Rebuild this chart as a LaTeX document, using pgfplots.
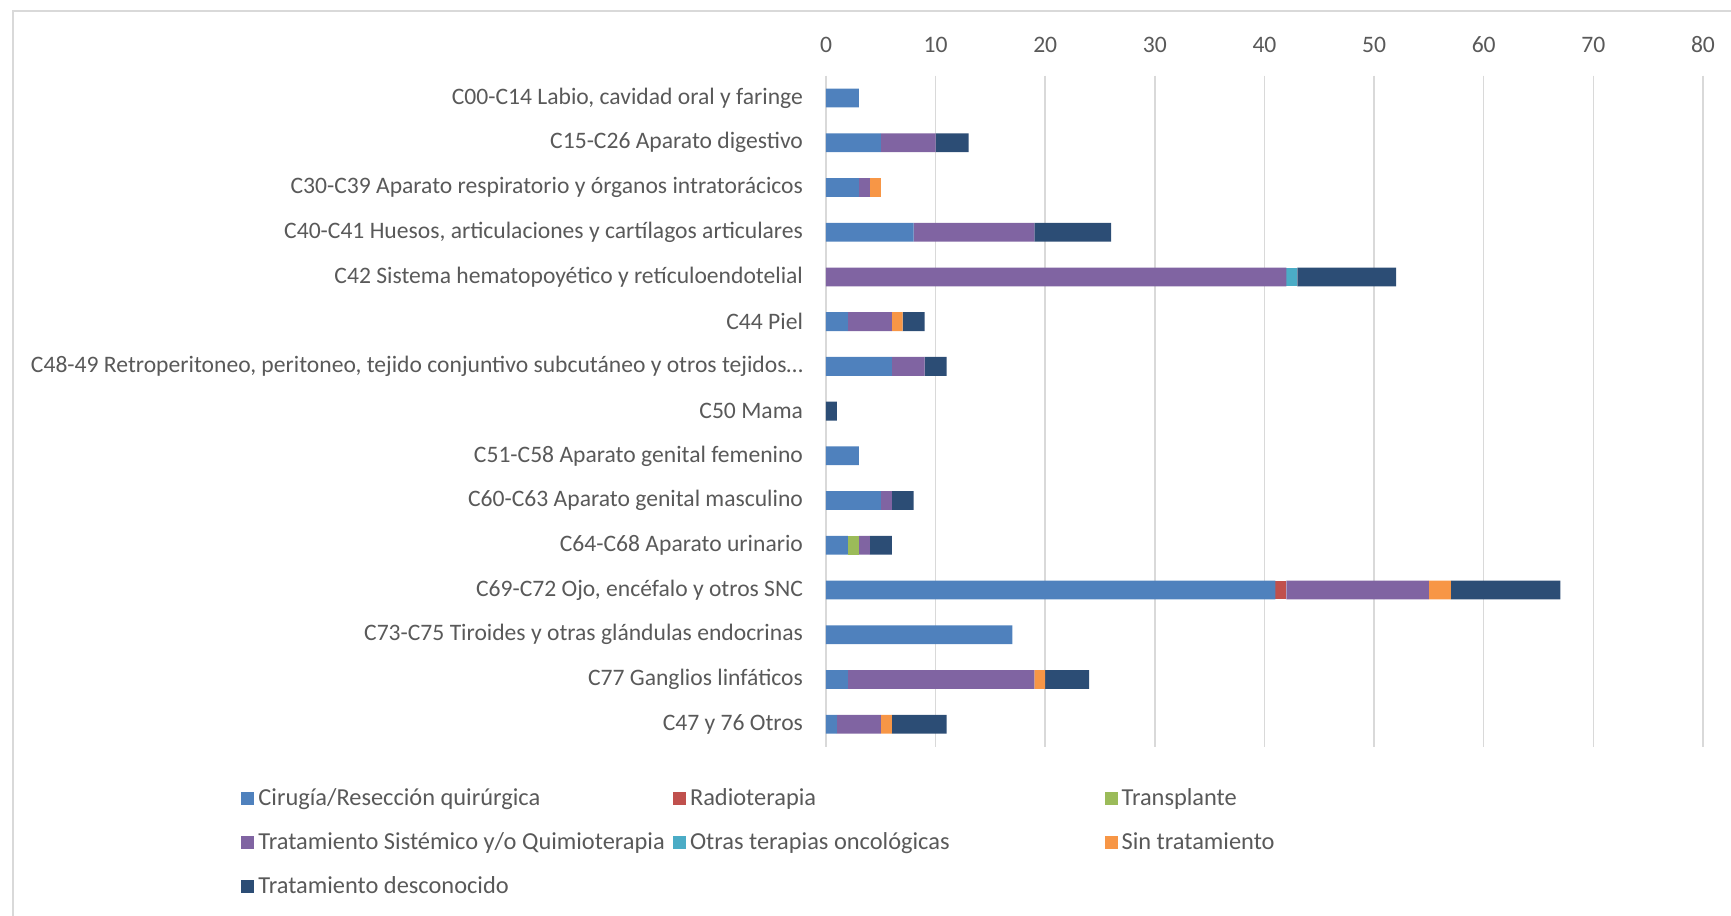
\documentclass[border=0pt]{standalone}
\usepackage{pgfplots}
\pgfplotsset{compat=1.18}
\usepackage{fontspec}
\setmainfont{Carlito}
\definecolor{cCir}{HTML}{4F81BD}
\definecolor{cRad}{HTML}{C0504D}
\definecolor{cTra}{HTML}{9BBB59}
\definecolor{cSis}{HTML}{8064A2}
\definecolor{cOtr}{HTML}{4BACC6}
\definecolor{cSin}{HTML}{F79646}
\definecolor{cDes}{HTML}{2C4D75}
\definecolor{txt}{HTML}{595959}
\definecolor{gridc}{HTML}{D9D9D9}
\begin{document}
\begin{tikzpicture}
\useasboundingbox (0,0) rectangle (865.5pt,458pt);
\draw[gridc, line width=0.8pt] (6.5pt,-5pt) rectangle (875pt,452.5pt);
\begin{axis}[
  at={(413pt,84.7pt)}, anchor=south west,
  scale only axis, width=438.5pt, height=335.5pt,
  xbar stacked, bar width=9.4pt,
  xmin=0, xmax=80, xtick={0,10,...,80},
  ymin=-0.5, ymax=14.5, y dir=reverse,
  ytick={0,...,14},
  yticklabels={
    {C00-C14 Labio, cavidad oral y faringe},
    {C15-C26 Aparato digestivo},
    {C30-C39 Aparato respiratorio y órganos intratorácicos},
    {C40-C41 Huesos, articulaciones y cartílagos articulares},
    {C42 Sistema hematopoyético y retículoendotelial},
    {C44 Piel},
    {C48-49 Retroperitoneo, peritoneo, tejido conjuntivo subcutáneo y otros tejidos…},
    {C50 Mama},
    {C51-C58 Aparato genital femenino},
    {C60-C63 Aparato genital masculino},
    {C64-C68 Aparato urinario},
    {C69-C72 Ojo, encéfalo y otros SNC},
    {C73-C75 Tiroides y otras glándulas endocrinas},
    {C77 Ganglios linfáticos},
    {C47 y 76 Otros\ }},
  axis line style={draw=none},
  major tick length=0pt,
  xticklabel pos=upper,
  xmajorgrids, ymajorgrids=false, major grid style={draw=gridc, line width=0.75pt},
  tick label style={font=\fontsize{11.8}{14}\selectfont, text=txt},
  xticklabel style={yshift=8pt},
  yticklabel style={xshift=-8pt},
  /pgf/number format/assume math mode=true,
  legend style={draw=none, fill=none, at={(-0.667,-0.056)}, anchor=north west,
    font=\fontsize{12.2}{14.5}\selectfont, text=txt,
    inner sep=0pt, row sep=8.1pt, column sep=0pt,
    /tikz/every even column/.append style={column sep=2pt}},
  legend columns=3,
  legend cell align=left,
  legend image code/.code={\fill[#1, draw=none] (0pt,-3.25pt) rectangle (6.5pt,3.25pt);},
]
\addplot[fill=cCir, draw=none] coordinates {(3,0) (5,1) (3,2) (8,3) (0,4) (2,5) (6,6) (0,7) (3,8) (5,9) (2,10) (41,11) (17,12) (2,13) (1,14)};
\addplot[fill=cRad, draw=none] coordinates {(0,0) (0,1) (0,2) (0,3) (0,4) (0,5) (0,6) (0,7) (0,8) (0,9) (0,10) (1,11) (0,12) (0,13) (0,14)};
\addplot[fill=cTra, draw=none] coordinates {(0,0) (0,1) (0,2) (0,3) (0,4) (0,5) (0,6) (0,7) (0,8) (0,9) (1,10) (0,11) (0,12) (0,13) (0,14)};
\addplot[fill=cSis, draw=none] coordinates {(0,0) (5,1) (1,2) (11,3) (42,4) (4,5) (3,6) (0,7) (0,8) (1,9) (1,10) (13,11) (0,12) (17,13) (4,14)};
\addplot[fill=cOtr, draw=none] coordinates {(0,0) (0,1) (0,2) (0,3) (1,4) (0,5) (0,6) (0,7) (0,8) (0,9) (0,10) (0,11) (0,12) (0,13) (0,14)};
\addplot[fill=cSin, draw=none] coordinates {(0,0) (0,1) (1,2) (0,3) (0,4) (1,5) (0,6) (0,7) (0,8) (0,9) (0,10) (2,11) (0,12) (1,13) (1,14)};
\addplot[fill=cDes, draw=none] coordinates {(0,0) (3,1) (0,2) (7,3) (9,4) (2,5) (2,6) (1,7) (0,8) (2,9) (2,10) (10,11) (0,12) (4,13) (5,14)};
\addlegendentry{\makebox[203.3pt][l]{Cirugía/Resección quirúrgica}}
\addlegendentry{\makebox[203.3pt][l]{Radioterapia}}
\addlegendentry{\makebox[203.3pt][l]{Transplante}}
\addlegendentry{\makebox[203.3pt][l]{Tratamiento Sistémico y/o Quimioterapia}}
\addlegendentry{\makebox[203.3pt][l]{Otras terapias oncológicas}}
\addlegendentry{\makebox[203.3pt][l]{Sin tratamiento}}
\addlegendentry{\makebox[203.3pt][l]{Tratamiento desconocido}}
\end{axis}
\end{tikzpicture}
\end{document}
